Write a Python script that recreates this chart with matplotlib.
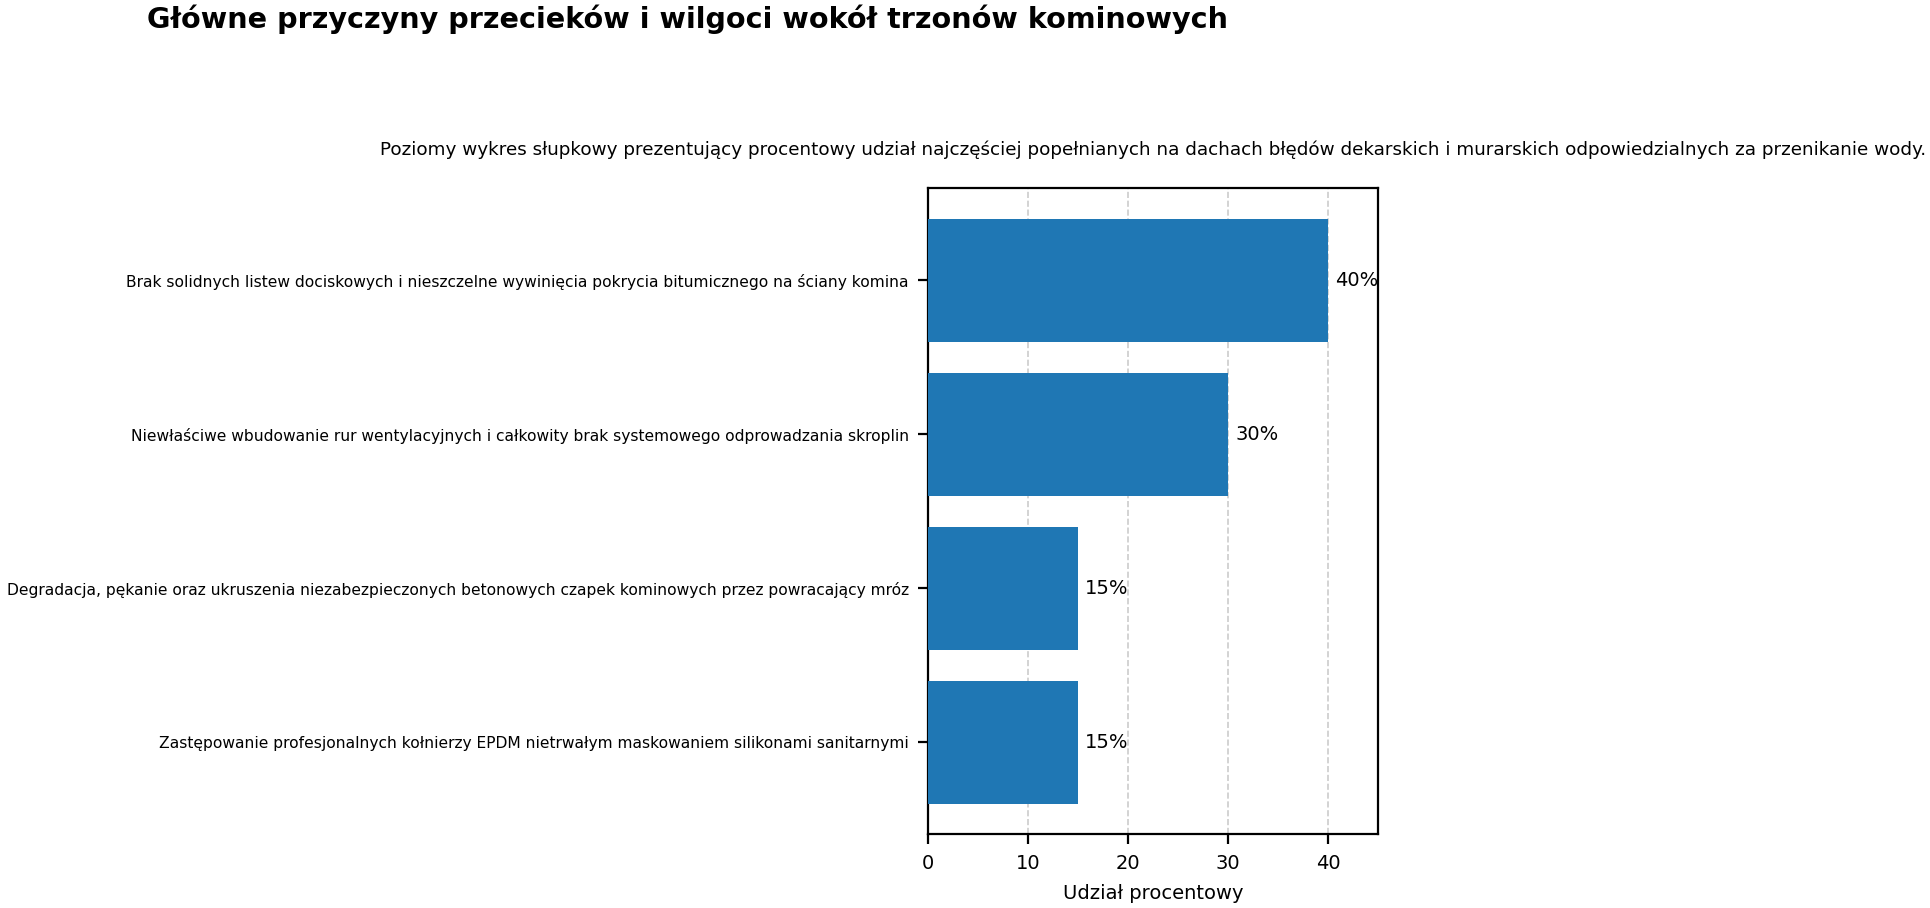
import matplotlib
matplotlib.use('Agg')
import matplotlib.pyplot as plt

categories = [
    'Brak solidnych listew dociskowych i nieszczelne wywinięcia pokrycia bitumicznego na ściany komina',
    'Niewłaściwe wbudowanie rur wentylacyjnych i całkowity brak systemowego odprowadzania skroplin',
    'Degradacja, pękanie oraz ukruszenia niezabezpieczonych betonowych czapek kominowych przez powracający mróz',
    'Zastępowanie profesjonalnych kołnierzy EPDM nietrwałym maskowaniem silikonami sanitarnymi',
]
values = [40, 30, 15, 15]

fig = plt.figure(figsize=(9.65, 4.54), dpi=200)
ax = fig.add_axes([0.481, 0.081, 0.233, 0.712])

y = list(range(len(categories)))[::-1]
ax.barh(y, values, color='#1f77b4', height=0.8, zorder=3)
for yi, v in zip(y, values):
    ax.text(v + 0.7, yi, f'{v}%', va='center', ha='left', fontsize=7)

ax.set_yticks(y)
ax.set_yticklabels(categories, fontsize=5.6)
ax.set_xlim(0, 45)
ax.set_ylim(-0.6, 3.6)
ax.set_xticks([0, 10, 20, 30, 40])
ax.tick_params(axis='x', labelsize=7)
ax.set_xlabel('Udział procentowy', fontsize=7)
ax.grid(axis='x', linestyle='--', color='#cccccc', linewidth=0.6, zorder=0)
ax.set_axisbelow(True)
ax.set_title('Poziomy wykres słupkowy prezentujący procentowy udział najczęściej popełnianych na dachach błędów dekarskich i murarskich odpowiedzialnych za przenikanie wody.',
             fontsize=6.6, pad=12)

fig.text(0.076, 0.995, 'Główne przyczyny przecieków i wilgoci wokół trzonów kominowych',
         fontsize=10.3, fontweight='bold', ha='left', va='top')

fig.savefig('out.png', dpi=200)
